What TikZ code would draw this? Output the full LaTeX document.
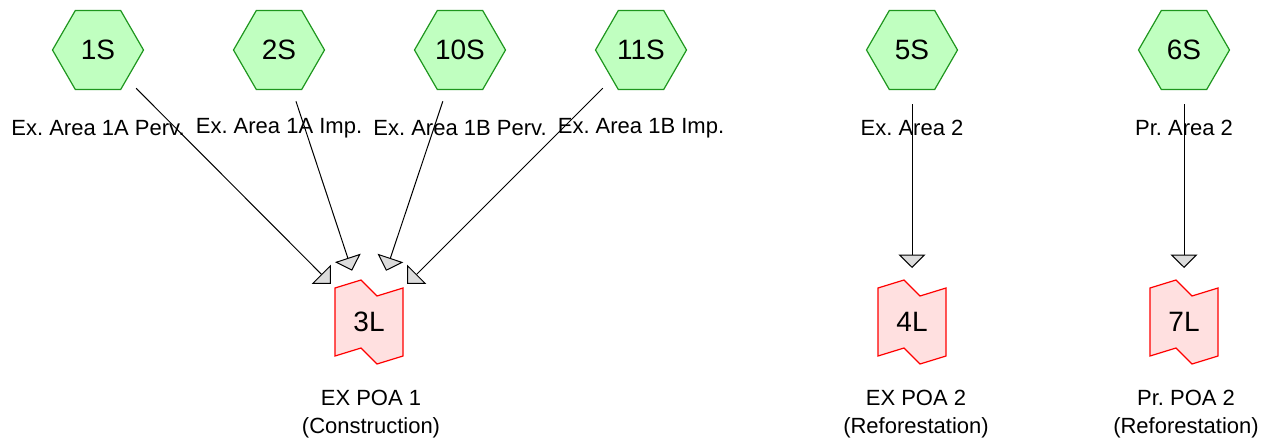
\documentclass[tikz,border=0pt]{standalone}
\usepackage{fontspec}
\setmainfont{Liberation Sans}
\frenchspacing
\usetikzlibrary{shapes.geometric,arrows.meta}
\definecolor{hexfill}{RGB}{192,255,192}
\definecolor{hexdraw}{RGB}{30,150,30}
\definecolor{lfill}{RGB}{255,224,224}
\definecolor{ldraw}{RGB}{255,0,0}
\definecolor{tipfill}{RGB}{220,220,220}
\tikzset{
  hexnode/.style={regular polygon, regular polygon sides=6, minimum size=91pt, inner sep=0pt,
    fill=hexfill, draw=hexdraw, line width=1.2pt, font=\fontsize{28}{32}\selectfont},
  lnode/.style={inner sep=0pt, font=\fontsize{28}{32}\selectfont},
  lbl/.style={font=\fontsize{22}{27.5}\selectfont, align=center, inner sep=0pt},
  flow/.style={line width=1pt, shorten <=54pt, shorten >=54pt,
    -{Triangle[length=13.5pt,width=27pt,fill=tipfill]}},
  pics/poa/.style={code={
    \draw[ldraw, fill=lfill, line width=1.2pt]
      (-34,-34) -- (-8,-42) -- (8,-26) -- (34,-34) -- (34,34) -- (8,42) -- (-8,26) -- (-34,34) -- cycle;
  }}
}
\begin{document}
\begin{tikzpicture}[x=1pt,y=-1pt]
\useasboundingbox (0,0) rectangle (1276,442);
% source hexagons
\node[hexnode] (s1)  at (98,50)  {1S};
\node[hexnode] (s2)  at (279,50) {2S};
\node[hexnode] (s10) at (460,50) {10S};
\node[hexnode] (s11) at (641,50) {11S};
\node[hexnode] (s5)  at (912,50) {5S};
\node[hexnode] (s6)  at (1184,50) {6S};
% source labels
\node[lbl] (t1)  at (98,128)  {Ex. Area 1A Perv.};
\node[lbl] (t2)  at (279,128) {Ex. Area 1A Imp.};
\node[lbl] (t10) at (460,128) {Ex. Area 1B Perv.};
\node[lbl] (t11) at (641,128) {Ex. Area 1B Imp.};
\node[lbl] (t5)  at (912,128) {Ex. Area 2};
\node[lbl] (t6)  at (1184,128) {Pr. Area 2};
% POA shapes
\pic at (369,322) {poa};
\pic at (912,322) {poa};
\pic at (1184,322) {poa};
\node[lnode] (l3) at (369,322) {3L};
\node[lnode] (l4) at (912,322) {4L};
\node[lnode] (l7) at (1184,322) {7L};
% POA labels
\node[lbl] (p3) at (371,414) {EX POA 1\\(Construction)};
\node[lbl] (p4) at (916,414) {EX POA 2\\(Reforestation)};
\node[lbl] (p7) at (1186,414) {Pr. POA 2\\(Reforestation)};
% connectors
\draw[flow] (s1.center) -- (l3.center);
\draw[flow] (s2.center) -- (l3.center);
\draw[flow] (s10.center) -- (l3.center);
\draw[flow] (s11.center) -- (l3.center);
\draw[flow] (s5.center) -- (l4.center);
\draw[flow] (s6.center) -- (l7.center);
\end{tikzpicture}
\end{document}
